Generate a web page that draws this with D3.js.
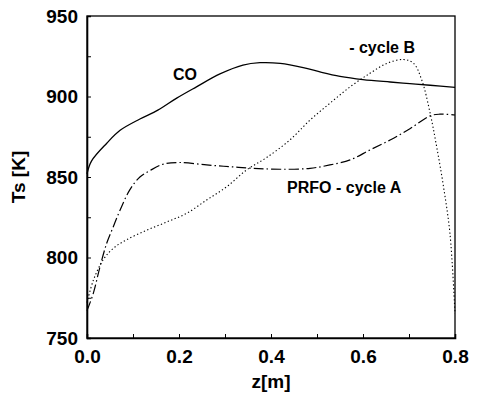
<!DOCTYPE html>
<html lang="en">
  <head>
    <meta charset="utf-8">
    <style>
      body { margin: 0; background: #ffffff; }
      text { font-family: "Liberation Sans", Arial, sans-serif; fill: #000000; }
    </style>
    <script src="https://d3js.org/d3.v7.min.js"></script>
  </head>
  <body>
    <div id="chart"></div>
  <script>
    // data: z [m] and Ts [K]
    var coZ = [0, 0.01, 0.043, 0.072, 0.115, 0.154, 0.195, 0.238, 0.289, 0.339, 0.376, 0.42, 0.47, 0.51, 0.55, 0.6, 0.659, 0.702, 0.746, 0.8];
    var coT = [852, 860, 871, 879, 886, 891.5, 899, 906, 914, 919.5, 921, 920.6, 918, 915, 912.5, 910.5, 909, 908, 907, 905.7];

    var cycleAZ = [0, 0.014, 0.028, 0.043, 0.057, 0.072, 0.093, 0.115, 0.137, 0.166, 0.202, 0.26, 0.311, 0.361, 0.42, 0.485, 0.528, 0.572, 0.615, 0.659, 0.702, 0.746, 0.767, 0.8];
    var cycleAT = [767, 778, 794, 809, 819, 829.5, 842, 850, 854, 858, 859, 857.5, 856.4, 855.4, 854.8, 855.4, 857.5, 860.6, 866.8, 873, 880, 888, 889, 888.5];

    var cycleBZ = [0, 0.014, 0.035, 0.057, 0.086, 0.13, 0.173, 0.217, 0.26, 0.304, 0.347, 0.39, 0.441, 0.485, 0.528, 0.572, 0.615, 0.652, 0.688, 0.71, 0.728, 0.746, 0.76, 0.775, 0.789, 0.8];
    var cycleBT = [772, 786, 798.5, 805.7, 811, 817, 822, 827.5, 835.7, 844, 854.4, 862, 873, 885.4, 895.8, 906, 914.4, 920.6, 923, 920.6, 910, 889.6, 869, 844, 815, 765];

    var xTickLabels = [0, 0.2, 0.4, 0.6, 0.8];
    var yTickLabels = [750, 800, 850, 900, 950];

    var W = 477, H = 400;
    var margin = {top: 16, right: 22, bottom: 62, left: 87};
    var width = W - margin.left - margin.right,
        height = H - margin.top - margin.bottom;

    var svg = d3.select("#chart")
      .append("svg")
        .attr("width", W)
        .attr("height", H)
      .append("g")
        .attr("transform", "translate(" + margin.left + "," + margin.top + ")");

    var x = d3.scaleLinear().domain([0, 0.8]).range([0, width]);
    var y = d3.scaleLinear().domain([750, 950]).range([height, 0]);

    // frame
    svg.append("rect")
      .attr("x", 0).attr("y", 0)
      .attr("width", width).attr("height", height)
      .attr("fill", "none")
      .attr("stroke", "#000")
      .attr("stroke-width", 1.3);

    // bottom axis, ticks pointing inward
    var xAxis = svg.append("g")
      .attr("transform", "translate(0," + height + ")")
      .call(d3.axisBottom(x)
        .tickValues(d3.range(0, 0.81, 0.1))
        .tickSize(-4)
        .tickFormat(function(d) {
          var hit = xTickLabels.some(function(v) { return Math.abs(v - d) < 1e-6; });
          return hit ? d3.format(".1f")(d) : "";
        }));
    xAxis.select(".domain").attr("stroke-width", 1.6);
    xAxis.selectAll("text")
      .attr("y", 12)
      .style("font-size", "19px")
      .style("font-weight", "bold");

    // left axis
    var yAxis = svg.append("g")
      .call(d3.axisLeft(y)
        .tickValues(d3.range(750, 951, 25))
        .tickSize(-4)
        .tickFormat(function(d) { return yTickLabels.indexOf(d) >= 0 ? d : ""; }));
    yAxis.select(".domain").attr("stroke-width", 1.6);
    yAxis.selectAll("text")
      .attr("x", -9)
      .style("font-size", "19px")
      .style("font-weight", "bold");
    svg.selectAll(".tick line").attr("stroke-width", 1);

    // axis titles
    svg.append("text")
      .attr("x", x(0.4))
      .attr("y", height + 50)
      .attr("text-anchor", "middle")
      .style("font-size", "19px")
      .style("font-weight", "bold")
      .text("z[m]");

    svg.append("text")
      .attr("transform", "translate(" + (-62) + "," + (height / 2) + ") rotate(-90)")
      .attr("text-anchor", "middle")
      .style("font-size", "19px")
      .style("font-weight", "bold")
      .text("Ts [K]");

    var line = d3.line()
      .x(function(d) { return x(d[0]); })
      .y(function(d) { return y(d[1]); })
      .curve(d3.curveCatmullRom);

    var series = [
      {z: coZ, t: coT, dash: null, w: 1.3},
      {z: cycleAZ, t: cycleAT, dash: "10,3,1.5,3", w: 1.2},
      {z: cycleBZ, t: cycleBT, dash: "1.3,2.4", w: 1.1}
    ];

    svg.selectAll("path.series")
      .data(series)
      .enter()
      .append("path")
        .attr("class", "series")
        .attr("d", function(s) { return line(s.z.map(function(v, i) { return [v, s.t[i]]; })); })
        .attr("fill", "none")
        .attr("stroke", "#000")
        .attr("stroke-width", function(s) { return s.w; })
        .attr("stroke-dasharray", function(s) { return s.dash; });

    // curve labels
    var labels = [
      {text: "CO", z: 0.187, t: 910},
      {text: "- cycle B", z: 0.57, t: 927},
      {text: "PRFO - cycle A", z: 0.435, t: 840}
    ];
    svg.selectAll("text.lbl")
      .data(labels)
      .enter()
      .append("text")
        .attr("class", "lbl")
        .attr("x", function(d) { return x(d.z); })
        .attr("y", function(d) { return y(d.t); })
        .style("font-size", "16px")
        .style("font-weight", "bold")
        .text(function(d) { return d.text; });
  </script>
  </body>
</html>
